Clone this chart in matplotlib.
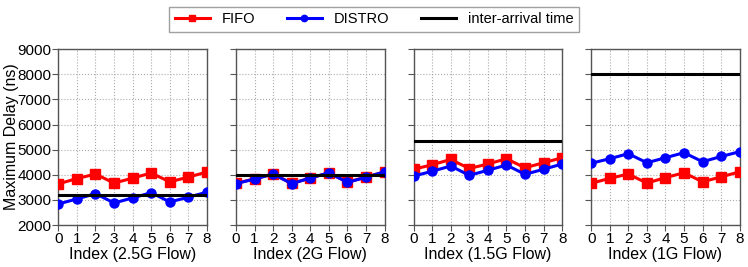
import numpy as np
import matplotlib
matplotlib.use("Agg")
import matplotlib.pyplot as plt

plt.rcParams['font.family'] = ['Liberation Sans', 'DejaVu Sans']

index = np.arange(9)
flows = ["2.5G", "2G", "1.5G", "1G"]

# maximum delay (ns) per flow index
fifo = [
    [3640, 3850, 4030, 3670, 3870, 4070, 3720, 3910, 4110],
    [3660, 3840, 4030, 3660, 3870, 4080, 3710, 3910, 4120],
    [4220, 4400, 4610, 4250, 4430, 4640, 4280, 4480, 4680],
    [3660, 3860, 4030, 3670, 3890, 4080, 3720, 3920, 4120],
]
distro = [
    [2840, 3040, 3250, 2880, 3080, 3290, 2920, 3110, 3310],
    [3650, 3830, 4030, 3650, 3870, 4080, 3700, 3900, 4120],
    [3950, 4140, 4350, 3980, 4180, 4390, 4020, 4220, 4430],
    [4460, 4640, 4840, 4480, 4680, 4880, 4520, 4730, 4920],
]
inter_arrival = [3200, 4000, 5333, 8000]

fig, axes = plt.subplots(1, 4, figsize=(7.48, 2.67), dpi=100, sharey=True)
fig.subplots_adjust(left=0.078, right=0.989, bottom=0.157, top=0.816, wspace=0.195)

for i, ax in enumerate(axes):
    ax.plot(index, fifo[i], color='red', marker='s', markersize=6.5, linewidth=2.2,
            label='FIFO', zorder=3)
    ax.plot(index, distro[i], color='blue', marker='o', markersize=6.5, linewidth=2.2,
            label='DISTRO', zorder=4)
    ax.axhline(inter_arrival[i], color='black', linewidth=2.2,
               label='inter-arrival time', zorder=5)
    ax.set_xlim(0, 8)
    ax.set_ylim(2000, 9000)
    ax.set_xticks(index)
    ax.set_yticks(range(2000, 9001, 1000))
    ax.grid(True, linestyle=':', color='#aaaaaa', linewidth=0.8)
    ax.set_xlabel("Index (%s Flow)" % flows[i], fontsize=11.5, labelpad=1)
    ax.tick_params(labelsize=11, length=4, color='#555555', pad=1)
    for s in ax.spines.values():
        s.set_color('#555555')
        s.set_linewidth(1)

axes[0].set_ylabel("Maximum Delay (ns)", fontsize=11.5)
axes[0].yaxis.set_label_coords(-0.265, 0.5)

handles, labels = axes[0].get_legend_handles_labels()
leg = fig.legend(handles, labels, loc='upper center', ncol=3, bbox_to_anchor=(0.5, 1.0),
                 fontsize=10.5, frameon=True, fancybox=False, edgecolor='#888888',
                 markerscale=0.7, handlelength=2.4, columnspacing=2.2,
                 borderpad=0.35)
leg.get_frame().set_linewidth(1)

fig.savefig("out.png", dpi=100)
